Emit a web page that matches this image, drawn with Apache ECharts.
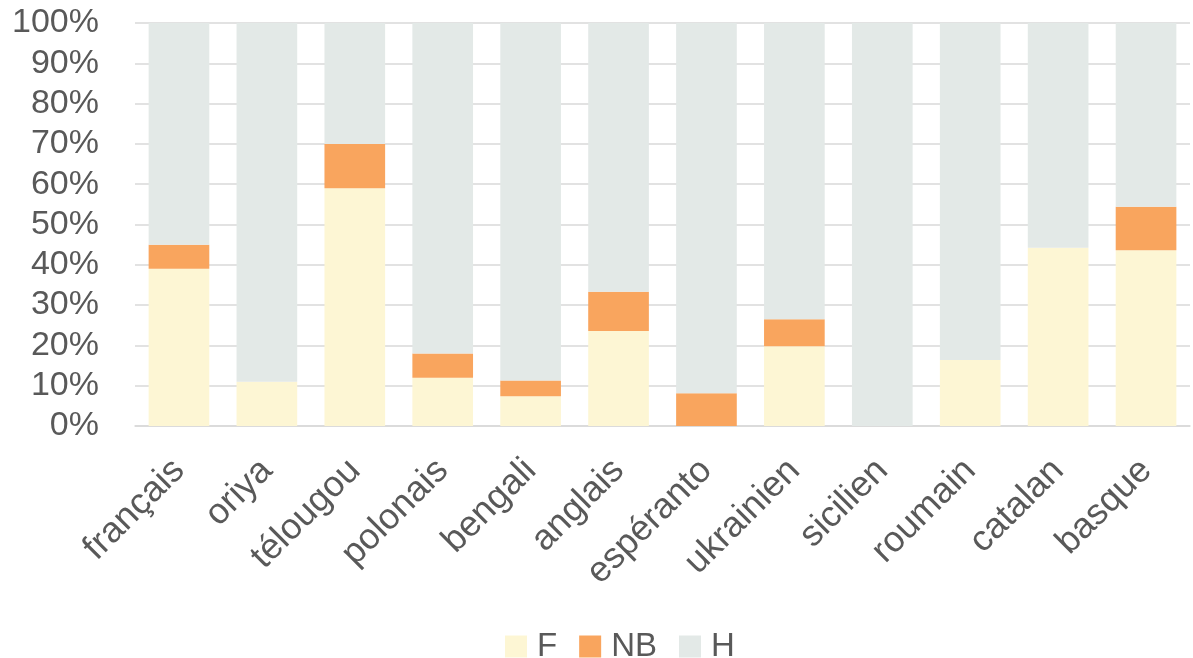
<!DOCTYPE html>
<html>
<head>
<meta charset="utf-8">
<script src="https://cdn.jsdelivr.net/npm/echarts@6/dist/echarts.min.js"></script>
<style>html,body{margin:0;padding:0;background:#fff}#c{width:1193px;height:658px}</style>
</head>
<body>
<div id="c"></div>
<script>
const categories = ['français','oriya','télougou','polonais','bengali','anglais','espéranto','ukrainien','sicilien','roumain','catalan','basque'];
const seriesF  = [39.0, 11.0, 59.0, 12.0, 7.4, 23.6, 0.0, 19.8, 0.0, 16.4, 44.2, 43.6];
const seriesNB = [6.0, 0.0, 11.0, 6.0, 3.9, 9.7, 8.1, 6.7, 0.0, 0.0, 0.0, 10.8];
const seriesH  = seriesF.map((f, i) => 100 - f - seriesNB[i]);
const yTicks = [0, 10, 20, 30, 40, 50, 60, 70, 80, 90, 100];

const font = 'Liberation Sans, Arial, sans-serif';
const chart = echarts.init(document.getElementById('c'), null, {renderer: 'canvas'});
chart.setOption({
  animation: false,
  color: ['#FDF6D4', '#F9A55E', '#E3E9E7'],
  grid: {left: 135, right: 3, top: 23, bottom: 232},
  legend: {
    top: 625, left: 500,
    itemWidth: 22, itemHeight: 22, itemGap: 22,
    icon: 'rect',
    textStyle: {fontFamily: font, fontSize: 33, color: '#595959', padding: [0,0,0,5]},
    data: ['F','NB','H']
  },
  xAxis: {
    type: 'category', data: categories,
    axisTick: {show: false},
    axisLine: {lineStyle: {color: '#d9d9d9', width: 1.5}},
    axisLabel: {rotate: 45, interval: 0, fontFamily: font, fontSize: 36, color: '#595959', margin: 39}
  },
  yAxis: {
    type: 'value', min: 0, max: 100, interval: 10,
    axisLine: {show: false}, axisTick: {show: false},
    splitLine: {lineStyle: {color: '#d9d9d9', width: 1.5}},
    axisLabel: {fontFamily: font, fontSize: 34, color: '#595959', margin: 36,
      formatter: v => yTicks.includes(v) ? v + '%' : ''}
  },
  series: [
    {name: 'F', type: 'bar', stack: 't', data: seriesF, barCategoryGap: '31%'},
    {name: 'NB', type: 'bar', stack: 't', data: seriesNB, barCategoryGap: '31%'},
    {name: 'H', type: 'bar', stack: 't', data: seriesH, barCategoryGap: '31%'}
  ]
});
</script>
</body>
</html>
